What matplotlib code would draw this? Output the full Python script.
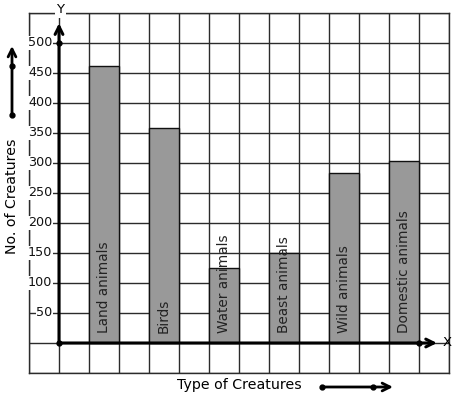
import matplotlib
matplotlib.use("Agg")
import matplotlib.pyplot as plt

categories = ["Land animals", "Birds", "Water animals", "Beast animals", "Wild animals", "Domestic animals"]
values = [462, 358, 125, 150, 283, 303]
ytick_labels = [50, 100, 150, 200, 250, 300, 350, 400, 450, 500]

W, H = 457, 399
fig = plt.figure(figsize=(W / 100, H / 100), dpi=100)
ax = fig.add_axes([29 / W, (H - 373) / H, 420 / W, 360 / H])
ax.set_xlim(-1, 13)
ax.set_ylim(-50, 550)
ax.set_xticks(range(-1, 14))
ax.set_yticks(range(-50, 551, 50))
ax.tick_params(length=0, labelbottom=False, labelleft=False)
ax.grid(True, color="#2b2b2b", lw=1.0, zorder=0)
ax.set_axisbelow(True)
for s in ax.spines.values():
    s.set_color("#2b2b2b")
    s.set_linewidth(1.0)

xpos = [1.5 + 2 * i for i in range(len(categories))]
ax.bar(xpos, values, width=1.0, color="#999999", edgecolor="#111111", lw=1.0, zorder=2)
for x, c in zip(xpos, categories):
    ax.text(x, 17, c, rotation=90, ha="center", va="bottom", fontsize=9.8,
            color="#222222", zorder=4)

for v in ytick_labels:
    ax.text(-0.22, v, str(v), ha="right", va="center", fontsize=9.2, color="#111111",
            zorder=4, bbox=dict(boxstyle="square,pad=0.05", fc="white", ec="none"))

# axes with arrows
ax.annotate("", xy=(0, 533), xytext=(0, 0),
            arrowprops=dict(arrowstyle="->", lw=2.2, color="black", mutation_scale=14,
                            shrinkA=0, shrinkB=0), zorder=5)
ax.annotate("", xy=(12.6, 0), xytext=(0, 0),
            arrowprops=dict(arrowstyle="->", lw=2.2, color="black", mutation_scale=14,
                            shrinkA=0, shrinkB=0), zorder=5)
ax.plot([0, 0, 12], [0, 500, 0], "o", color="black", ms=3.5, zorder=6, clip_on=False)
ax.text(0.05, 555, "Y", ha="center", va="center", fontsize=9.5, zorder=6,
        bbox=dict(boxstyle="square,pad=0.1", fc="white", ec="none"), clip_on=False)
ax.text(12.95, 0, "X", ha="center", va="center", fontsize=9.5, zorder=6, clip_on=False)

def fp(x, y):
    return (x / W, 1 - y / H)

# y label with arrow
fig.text(*fp(12, 196), "No. of Creatures", rotation=90, ha="center", va="center", fontsize=10.2)
fig.add_artist(matplotlib.patches.FancyArrowPatch(fp(12, 115), fp(12, 46), transform=fig.transFigure,
               arrowstyle="->", lw=2, color="black", mutation_scale=14, shrinkA=0, shrinkB=0))
fig.add_artist(matplotlib.lines.Line2D([fp(12, 115)[0]] * 2, [fp(12, 115)[1], fp(12, 66)[1]],
               transform=fig.transFigure, marker="o", ms=3.5, lw=0, color="black"))

# x label with arrow
fig.text(*fp(239, 385), "Type of Creatures", ha="center", va="center", fontsize=10.2)
fig.add_artist(matplotlib.patches.FancyArrowPatch(fp(322, 387), fp(393, 387), transform=fig.transFigure,
               arrowstyle="->", lw=2, color="black", mutation_scale=14, shrinkA=0, shrinkB=0))
fig.add_artist(matplotlib.lines.Line2D([fp(322, 387)[0], fp(373, 387)[0]], [fp(322, 387)[1]] * 2,
               transform=fig.transFigure, marker="o", ms=3.5, lw=0, color="black"))

fig.savefig("out.png", dpi=100, facecolor="white")
